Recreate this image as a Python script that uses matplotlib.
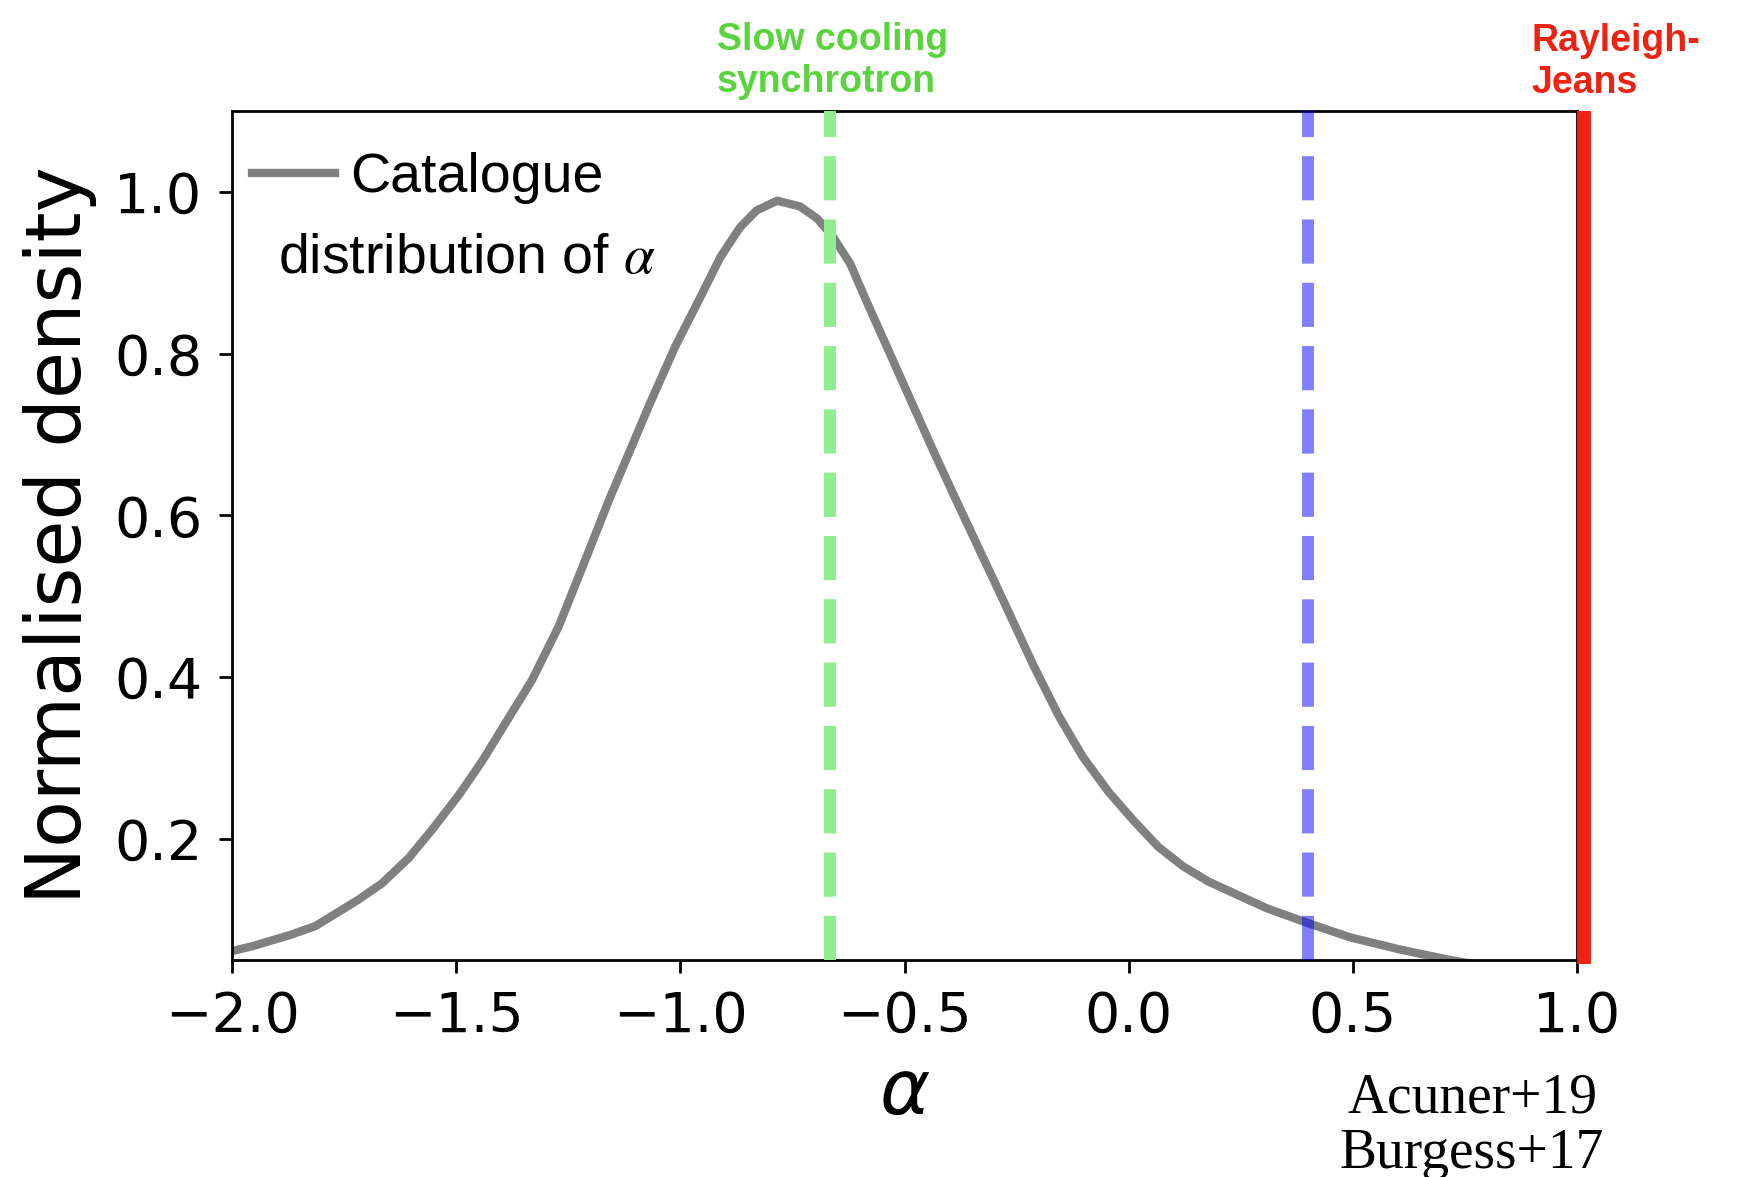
import matplotlib
matplotlib.use("Agg")
import matplotlib.pyplot as plt
from matplotlib.font_manager import FontProperties

# ---- data ----
alpha_vals = [-2.00, -1.955, -1.87, -1.814, -1.755, -1.717, -1.665, -1.606, -1.554,
              -1.494, -1.442, -1.390, -1.331, -1.271, -1.219, -1.159, -1.068, -1.012,
              -0.956, -0.911, -0.867, -0.830, -0.784, -0.733, -0.695, -0.659, -0.621,
              -0.585, -0.510, -0.436, -0.380, -0.280, -0.213, -0.157, -0.102, -0.045,
              0.010, 0.066, 0.121, 0.178, 0.233, 0.308, 0.398, 0.494, 0.605, 0.717, 0.80]
density_vals = [0.061, 0.067, 0.081, 0.092, 0.112, 0.125, 0.145, 0.176, 0.211,
                0.254, 0.296, 0.343, 0.396, 0.463, 0.535, 0.619, 0.738, 0.808,
                0.869, 0.919, 0.956, 0.977, 0.989, 0.982, 0.967, 0.944, 0.911,
                0.865, 0.772, 0.680, 0.613, 0.495, 0.415, 0.353, 0.301, 0.258,
                0.223, 0.190, 0.166, 0.147, 0.133, 0.114, 0.096, 0.078, 0.063, 0.050, 0.042]
slow_cooling_alpha = -2.0 / 3.0
acuner_alpha = 0.4
rayleigh_alpha = 1.015
xticks = [-2.0, -1.5, -1.0, -0.5, 0.0, 0.5, 1.0]
yticks = [0.2, 0.4, 0.6, 0.8, 1.0]

fig = plt.figure(figsize=(17.44, 11.77), dpi=100)
ax = fig.add_axes([232/1744, 1 - 960/1177, 1345/1744, 849/1177])

ax.plot(alpha_vals, density_vals, color='#808080', lw=6, label='Catalogue',
        zorder=2, solid_joinstyle='round')
ax.axvline(slow_cooling_alpha, color='#90EE90', lw=8.6, ls='--', zorder=3)
ax.axvline(acuner_alpha, color='blue', alpha=0.5, lw=8.6, ls='--', zorder=3)
ax.axvline(rayleigh_alpha, ymin=-0.005, ymax=1.0, color='#EE2211', lw=10,
           clip_on=False, zorder=4, solid_capstyle='butt')

ax.set_xlim(-2.0, 1.0)
ax.set_ylim(0.05, 1.1)
ax.set_xticks(xticks)
ax.set_yticks(yticks)
ax.tick_params(axis='both', labelsize=40, length=9.5, width=2, pad=12)
for s in ax.spines.values():
    s.set_linewidth(2)

ax.set_xlabel(r'$\alpha$', fontsize=55, labelpad=9)
ax.set_ylabel('Normalised density', fontsize=55, labelpad=12)

leg_prop = FontProperties(family='Liberation Sans', size=40, math_fontfamily='stix')
ax.legend(loc='center left', bbox_to_anchor=(20/1345, 0.921), frameon=False,
          borderpad=0, borderaxespad=0, handlelength=1.49, handletextpad=0.27,
          prop=leg_prop)
ax.text(0.0342, 0.8092, r'distribution of $\alpha$', transform=ax.transAxes,
        ha='left', va='baseline', fontproperties=leg_prop)

ax.text(0.3606, 1.0224, 'Slow cooling\nsynchrotron', transform=ax.transAxes,
        ha='left', va='baseline', color='#5AD43C', fontsize=27,
        fontweight='bold', family='Liberation Sans', clip_on=False)
ax.text(0.9658, 1.0212, 'Rayleigh-\nJeans', transform=ax.transAxes,
        ha='left', va='baseline', color='#EE2211', fontsize=27,
        fontweight='bold', family='Liberation Sans', clip_on=False)
ax.text(0.922, -0.245, 'Acuner+19\nBurgess+17', transform=ax.transAxes,
        ha='center', va='baseline', multialignment='center', color='black',
        fontsize=40, family='Liberation Serif', linespacing=1.1, clip_on=False)

fig.savefig('out.png', dpi=100)
